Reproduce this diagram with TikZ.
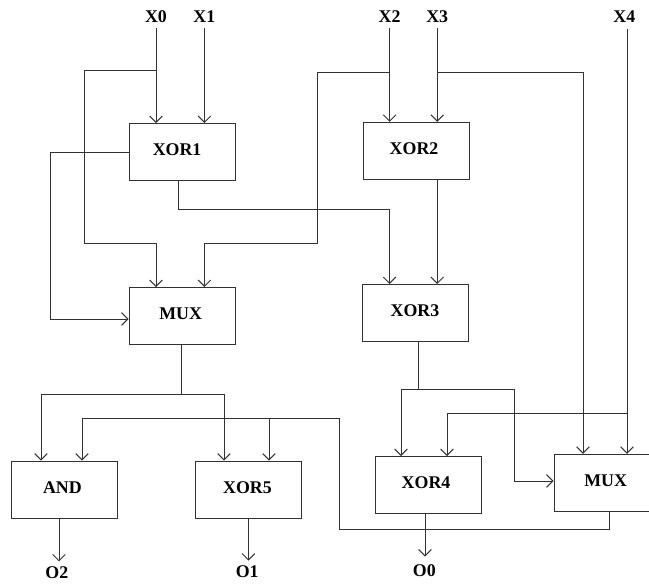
\documentclass[tikz,border=0pt]{standalone}
\usepackage{fontspec}
\setmainfont{Liberation Serif}
\usetikzlibrary{arrows.meta}
\tikzset{
  block/.style={draw, text=black, minimum width=2.65cm, minimum height=1.425cm, inner sep=0pt, text depth=2.8pt, font=\fontsize{12.7}{15}\selectfont\bfseries},
  pin/.style={text=black, inner sep=3.5pt, font=\fontsize{12.7}{15}\selectfont\bfseries},
  >={Straight Barb[length=4.5pt,width=9pt]}
}
\begin{document}
\begin{tikzpicture}[line width=0.7pt, color=black!80]
\useasboundingbox (0,0) rectangle (16.225,-14.575);
\clip (0,0) rectangle (16.225,-14.575);
\node[pin] (x0) at (3.90,-0.41) {X0};
\node[pin] (x1) at (5.11,-0.41) {X1};
\node[pin] (x2) at (9.74,-0.42) {X2};
\node[pin] (x3) at (10.93,-0.42) {X3};
\node[pin] (x4) at (15.61,-0.42) {X4};
\node[block] (xor1) at (4.55,-3.80) {XOR1\kern7pt};
\node[block] (xor2) at (10.40,-3.77) {XOR2\kern2.8pt};
\node[block] (muxa) at (4.55,-7.90) {MUX\kern2pt};
\node[block] (xor3) at (10.375,-7.825) {XOR3};
\node[block] (andg) at (1.62,-12.24) {AND\kern3.4pt};
\node[block] (xor5) at (6.21,-12.24) {XOR5\kern1.4pt};
\node[block] (xor4) at (10.70,-12.125) {XOR4\kern2.8pt};
\node[block] (muxb) at (15.175,-12.07) {MUX\kern2pt};
\node[pin] (o2) at (1.42,-14.32) {O2};
\node[pin] (o1) at (6.18,-14.30) {O1};
\node[pin] (o0) at (10.61,-14.27) {O0};
\coordinate (x0tap) at (3.90,-1.76);
\coordinate (x2tap) at (9.74,-1.81);
\coordinate (x3tap) at (10.93,-1.81);
\coordinate (x4top) at (15.675,-0.72);
\coordinate (x4tap) at (15.675,-10.34);
\coordinate (xor1out) at (4.46,0 |- xor1.south);
\coordinate (muxaout) at (4.525,0 |- muxa.south);
\coordinate (muxatap) at (4.525,-9.86);
\coordinate (muxain) at (muxa.west |- 0,-7.975);
\coordinate (muxbin) at (muxb.west |- 0,-12.025);
\coordinate (muxbout) at (15.225,0 |- muxb.south);
\coordinate (xor3out) at (10.45,0 |- xor3.south);
\coordinate (xor3tap) at (10.45,-9.725);
\coordinate (xor5tap) at (6.725,-10.45);
\coordinate (andout) at (1.475,0 |- andg.south);
\coordinate (xor4out) at (10.625,0 |- xor4.south);
\draw[->] (x0) -- (x0 |- xor1.north);
\draw[->] (x1) -- (x1 |- xor1.north);
\draw[->] (x2) -- (x2 |- xor2.north);
\draw[->] (x3) -- (x3 |- xor2.north);
\draw[->] (x4top) -- (x4top |- muxb.north);
\draw[->] (x0tap) -| (2.11,-6.09) -| (x0 |- muxa.north);
\draw[->] (x2tap) -| (7.94,-6.09) -| (x1 |- muxa.north);
\draw[->] (x3tap) -| (14.575,0 |- muxb.north);
\draw[->] (x4tap) -| (11.175,0 |- xor4.north);
\draw[->] (xor1.west) -| (1.25,-7.975) -- (muxain);
\draw[->] (xor1out) |- (x2 |- 0,-5.225) -- (x2 |- xor3.north);
\draw[->] (x3 |- xor2.south) -- (x3 |- xor3.north);
\draw (muxaout) -- (muxatap);
\draw[->] (muxatap) -| (1.025,0 |- andg.north);
\draw[->] (muxatap) -| (5.60,0 |- xor5.north);
\draw (xor3out) -- (xor3tap);
\draw[->] (xor3tap) -| (10.025,0 |- xor4.north);
\draw[->] (xor3tap) -| (12.85,-12.025) -- (muxbin);
\draw[->] (muxbout) |- (8.475,-13.225) |- (2.05,-10.45) -- (2.05,0 |- andg.north);
\draw[->] (xor5tap) -- (xor5tap |- xor5.north);
\draw[->] (andout) -- (andout |- o2.north);
\draw[->] (xor5.south) -- (xor5.south |- o1.north);
\draw[->, shorten >=2pt] (xor4out) -- (xor4out |- o0.north);
\end{tikzpicture}
\end{document}
